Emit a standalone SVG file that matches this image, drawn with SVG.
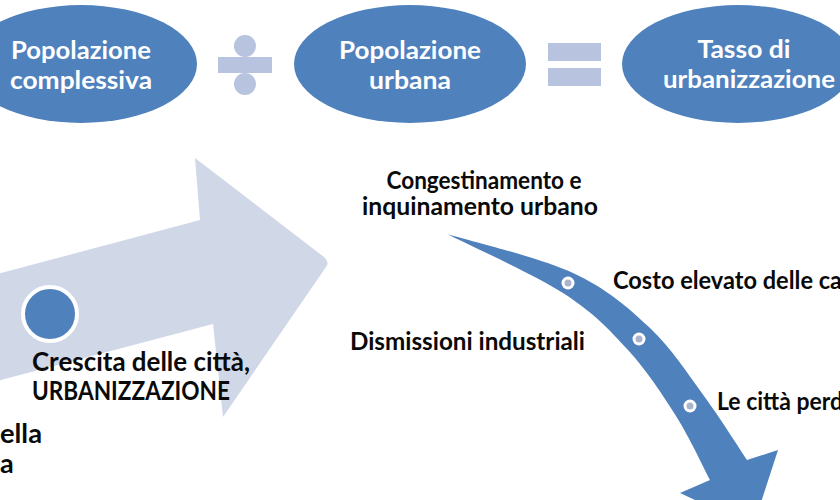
<svg xmlns="http://www.w3.org/2000/svg" width="840" height="500" viewBox="0 0 840 500">
<style>
.oval{fill:#4f81bd}
.op{fill:#b7c3df}
.wt{font-family:Lato,"Liberation Sans",sans-serif;font-weight:bold;font-size:25px;fill:#ffffff;text-anchor:middle}
.bt{font-family:Lato,"Liberation Sans",sans-serif;font-weight:bold;font-size:25px;fill:#0a0a0a}
.big{font-size:27px}
.ring{fill:#ffffff}
.dot{fill:#aab4cc}
</style>
<rect width="840" height="500" fill="#ffffff"/>
<g id="formula">
  <g id="node-popolazione-complessiva">
    <ellipse class="oval" cx="81" cy="64" rx="116" ry="59"/>
    <text class="wt" x="81" y="59" textLength="140" lengthAdjust="spacingAndGlyphs">Popolazione</text>
    <text class="wt" x="81" y="89" textLength="142" lengthAdjust="spacingAndGlyphs">complessiva</text>
  </g>
  <g id="op-divide">
    <circle class="op" cx="245" cy="46" r="11"/>
    <rect class="op" x="218" y="57" width="54" height="16"/>
    <circle class="op" cx="245" cy="84" r="11"/>
  </g>
  <g id="node-popolazione-urbana">
    <ellipse class="oval" cx="410" cy="64" rx="116" ry="59"/>
    <text class="wt" x="410" y="59" textLength="142" lengthAdjust="spacingAndGlyphs">Popolazione</text>
    <text class="wt" x="410" y="89" textLength="82" lengthAdjust="spacingAndGlyphs">urbana</text>
  </g>
  <g id="op-equals">
    <rect class="op" x="548" y="43" width="53" height="18"/>
    <rect class="op" x="548" y="68" width="53" height="18"/>
  </g>
  <g id="node-tasso">
    <ellipse class="oval" cx="738" cy="64" rx="116" ry="59"/>
    <text class="wt" x="744" y="58" textLength="93" lengthAdjust="spacingAndGlyphs">Tasso di</text>
    <text class="wt" x="749" y="88" textLength="172" lengthAdjust="spacingAndGlyphs">urbanizzazione</text>
  </g>
</g>
<g id="connectors">
  <path id="growth-arrow" fill="#d0d8e8" d="M-10,276 L200,220 L195,158 L324,257 Q330,262 326,267 L223,417 L213,324 L-10,383 Z"/>
  <path id="decline-arrow" fill="#4f81bd" d="M447,234 C468,240.5 539.2,257.3 573,273 C606.8,288.7 628.2,307.5 650,328 C671.8,348.5 687.8,374 704,396 C720.2,418 739.8,449.3 747,460 L778,450 L753,527 L680,493 L710,480 C704.3,469.3 689.7,437.7 676,416 C662.3,394.3 646.8,370.5 628,350 C609.2,329.5 593.2,312.3 563,293 C532.8,273.7 466.3,243.8 447,234 Z"/>
</g>
<g id="node-crescita">
  <circle cx="50" cy="314" r="27" fill="#4f81bd" stroke="#ffffff" stroke-width="4"/>
  <text class="bt big" x="32" y="371" textLength="218" lengthAdjust="spacingAndGlyphs">Crescita delle città,</text>
  <text class="bt big" x="32" y="400" textLength="198" lengthAdjust="spacingAndGlyphs">URBANIZZAZIONE</text>
</g>
<g id="node-left-cut">
  <text class="bt big" x="0" y="443" textLength="42" lengthAdjust="spacingAndGlyphs">ella</text>
  <text class="bt big" x="0" y="473">a</text>
</g>
<g id="node-congestinamento">
  <text class="bt" x="484" y="189" text-anchor="middle" textLength="195" lengthAdjust="spacingAndGlyphs">Congestinamento e</text>
  <text class="bt" x="480" y="215" text-anchor="middle" textLength="236" lengthAdjust="spacingAndGlyphs">inquinamento urbano</text>
</g>
<g id="node-costo">
  <circle class="ring" cx="568" cy="283" r="6.5"/>
  <circle class="dot" cx="568" cy="283" r="3.5"/>
  <text class="bt" x="613" y="289" textLength="229" lengthAdjust="spacingAndGlyphs">Costo elevato delle ca</text>
</g>
<g id="node-dismissioni">
  <circle class="ring" cx="639" cy="339" r="6.5"/>
  <circle class="dot" cx="639" cy="339" r="3.5"/>
  <text class="bt" x="350" y="350" textLength="235" lengthAdjust="spacingAndGlyphs">Dismissioni industriali</text>
</g>
<g id="node-citta">
  <circle class="ring" cx="690" cy="406" r="6.5"/>
  <circle class="dot" cx="690" cy="406" r="3.5"/>
  <text class="bt" x="717" y="410" textLength="126" lengthAdjust="spacingAndGlyphs">Le città perd</text>
</g>
</svg>
